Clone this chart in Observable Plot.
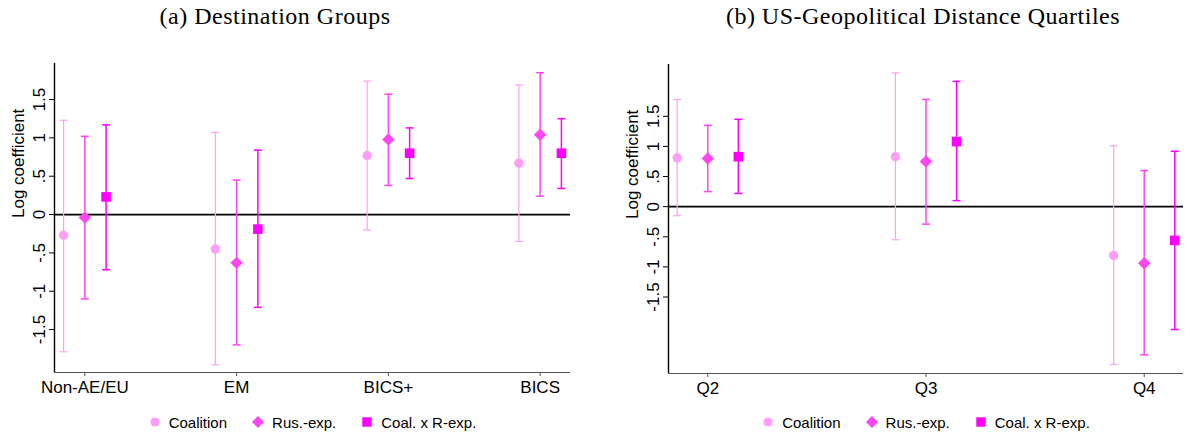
<!DOCTYPE html>
<html><head><meta charset="utf-8">
<script src="https://cdn.jsdelivr.net/npm/d3@7"></script>
<script src="https://cdn.jsdelivr.net/npm/@observablehq/plot@0.6"></script>
<style>
body{margin:0;background:#fff;width:1190px;height:436px;position:relative;overflow:hidden;font-family:"Liberation Sans",Arial,sans-serif;color:#000}
.panel{position:absolute;top:0;width:595px;height:436px;}
.title{position:absolute;top:4px;font-family:"Liberation Serif",serif;font-size:24px;letter-spacing:0.5px;line-height:1;white-space:nowrap;transform:translateX(-50%);}
.chart{position:absolute;top:40px;left:0}
.legend{position:absolute;top:412px;height:20px;display:flex;justify-content:center;align-items:center;font-size:15px;gap:24px}
.item{display:flex;align-items:center;gap:7px}
</style></head><body>
<div id="pa" class="panel" style="left:0"></div>
<div id="pb" class="panel" style="left:595px"></div>
<script>
// ---- data ----
const seriesNames = ["Coalition", "Rus.-exp.", "Coal. x R-exp."];
const seriesColors = ["#ff9ef6", "#ff44f2", "#ff00ff"];

const titleA = "(a) Destination Groups";
const groupsA = ["Non-AE/EU", "EM", "BICS+", "BICS"];
const coalA_est = [-0.27, -0.45, 0.77, 0.67];
const coalA_lo  = [-1.79, -1.96, -0.20, -0.35];
const coalA_hi  = [1.23, 1.07, 1.74, 1.69];
const rusA_est  = [-0.04, -0.63, 0.98, 1.04];
const rusA_lo   = [-1.10, -1.70, 0.38, 0.24];
const rusA_hi   = [1.02, 0.45, 1.57, 1.85];
const cxrA_est  = [0.23, -0.19, 0.80, 0.80];
const cxrA_lo   = [-0.72, -1.21, 0.47, 0.34];
const cxrA_hi   = [1.17, 0.84, 1.13, 1.25];

const titleB = "(b) US-Geopolitical Distance Quartiles";
const groupsB = ["Q2", "Q3", "Q4"];
const coalB_est = [0.81, 0.83, -0.81];
const coalB_lo  = [-0.15, -0.55, -2.62];
const coalB_hi  = [1.78, 2.22, 1.01];
const rusB_est  = [0.80, 0.75, -0.94];
const rusB_lo   = [0.25, -0.29, -2.46];
const rusB_hi   = [1.35, 1.78, 0.60];
const cxrB_est  = [0.83, 1.08, -0.56];
const cxrB_lo   = [0.22, 0.10, -2.04];
const cxrB_hi   = [1.45, 2.08, 0.92];

const yTickValues = [-1.5, -1, -0.5, 0, 0.5, 1, 1.5];
const yTickLabels = ["-1.5", "-1", "-.5", "0", ".5", "1", "1.5"];
const yLabel = "Log coefficient";

// ---- symbols ----
const diamondSym = {draw(ctx, size){const r=Math.sqrt(size/Math.PI);ctx.moveTo(0,-r);ctx.lineTo(r,0);ctx.lineTo(0,r);ctx.lineTo(-r,0);ctx.closePath();}};
const squareSym = {draw(ctx, size){const r=Math.sqrt(size/Math.PI);ctx.rect(-r,-r,2*r,2*r);}};
const capSym = {draw(ctx, size){const r=Math.sqrt(size/Math.PI);ctx.moveTo(-r,0);ctx.lineTo(r,0);}};
const seriesSymbols = ["circle", diamondSym, squareSym];
const seriesR = [4.7, 6.2, 4.8];
const seriesSW = [1.2, 1.5, 1.5];
const seriesOffset = [-0.14, 0, 0.14];

function makePanel(el, {title, titleX, groups, series, xDomain, yDomain, ml, mr, mt, mb}) {
  const marks = [
    Plot.ruleY([0], {stroke: "#000", strokeWidth: 1.7}),
    Plot.ruleY([yDomain[0]], {stroke: "#555", strokeWidth: 1.2}),
    Plot.ruleX([xDomain[0]], {stroke: "#000", strokeWidth: 1.4}),
    Plot.axisX({ticks: groups.map((g, i) => i + 1), tickFormat: d => groups[d - 1], tickSize: 4, tickPadding: 4, stroke: "#555", label: null, fontSize: 17}),
    Plot.axisY({ticks: yTickValues, tickFormat: d => yTickLabels[yTickValues.indexOf(d)], tickSize: 5, tickRotate: -90, tickPadding: 5, label: null, fontSize: 17}),
    Plot.text([yLabel], {frameAnchor: "left", dx: -36, rotate: -90, fontSize: "17px"})
  ];
  series.forEach(([est, lo, hi], s) => {
    const rows = groups.map((g, i) => ({x: i + 1 + seriesOffset[s], est: est[i], lo: lo[i], hi: hi[i]}));
    const c = seriesColors[s];
    marks.push(
      Plot.ruleX(rows, {x: "x", y1: "lo", y2: "hi", stroke: c, strokeWidth: seriesSW[s]}),
      Plot.dot(rows, {x: "x", y: "lo", symbol: capSym, r: 4, stroke: c, fill: "none", strokeWidth: seriesSW[s]}),
      Plot.dot(rows, {x: "x", y: "hi", symbol: capSym, r: 4, stroke: c, fill: "none", strokeWidth: seriesSW[s]}),
      Plot.dot(rows, {x: "x", y: "est", symbol: seriesSymbols[s], r: seriesR[s], fill: c, stroke: "none"})
    );
  });
  const chart = Plot.plot({
    width: 595, height: 362, marginLeft: ml, marginRight: mr, marginTop: mt, marginBottom: mb,
    x: {domain: xDomain}, y: {domain: yDomain},
    style: {fontFamily: "Liberation Sans, Arial, sans-serif", fontSize: "17px", color: "#000", background: "white", overflow: "visible"},
    marks
  });
  const t = document.createElement("div");
  t.className = "title"; t.style.left = titleX + "px"; t.textContent = title;
  el.appendChild(t);
  const wrap = document.createElement("div");
  wrap.className = "chart"; wrap.appendChild(chart);
  el.appendChild(wrap);
  const leg = document.createElement("div");
  leg.className = "legend";
  leg.style.left = ml + "px"; leg.style.width = (595 - ml - mr) + "px";
  const shapes = [
    c => `<circle cx="7" cy="7" r="4.6" fill="${c}"/>`,
    c => `<path d="M7 1 L13 7 L7 13 L1 7 Z" fill="${c}"/>`,
    c => `<rect x="2.3" y="2.3" width="9.4" height="9.4" fill="${c}"/>`
  ];
  seriesNames.forEach((n, s) => {
    const it = document.createElement("div");
    it.className = "item";
    it.innerHTML = `<svg width="14" height="14">${shapes[s](seriesColors[s])}</svg><span>${n}</span>`;
    leg.appendChild(it);
  });
  el.appendChild(leg);
}

makePanel(document.getElementById("pa"), {
  title: titleA, titleX: 275, groups: groupsA,
  series: [[coalA_est, coalA_lo, coalA_hi], [rusA_est, rusA_lo, rusA_hi], [cxrA_est, cxrA_lo, cxrA_hi]],
  xDomain: [0.8, 4.2], yDomain: [-2.06, 1.97], ml: 54, mr: 25, mt: 23, mb: 30
});
makePanel(document.getElementById("pb"), {
  title: titleB, titleX: 328, groups: groupsB,
  series: [[coalB_est, coalB_lo, coalB_hi], [rusB_est, rusB_lo, rusB_hi], [cxrB_est, cxrB_lo, cxrB_hi]],
  xDomain: [0.82, 3.18], yDomain: [-2.77, 2.36], ml: 73, mr: 7, mt: 24, mb: 29
});
</script>
</body></html>
